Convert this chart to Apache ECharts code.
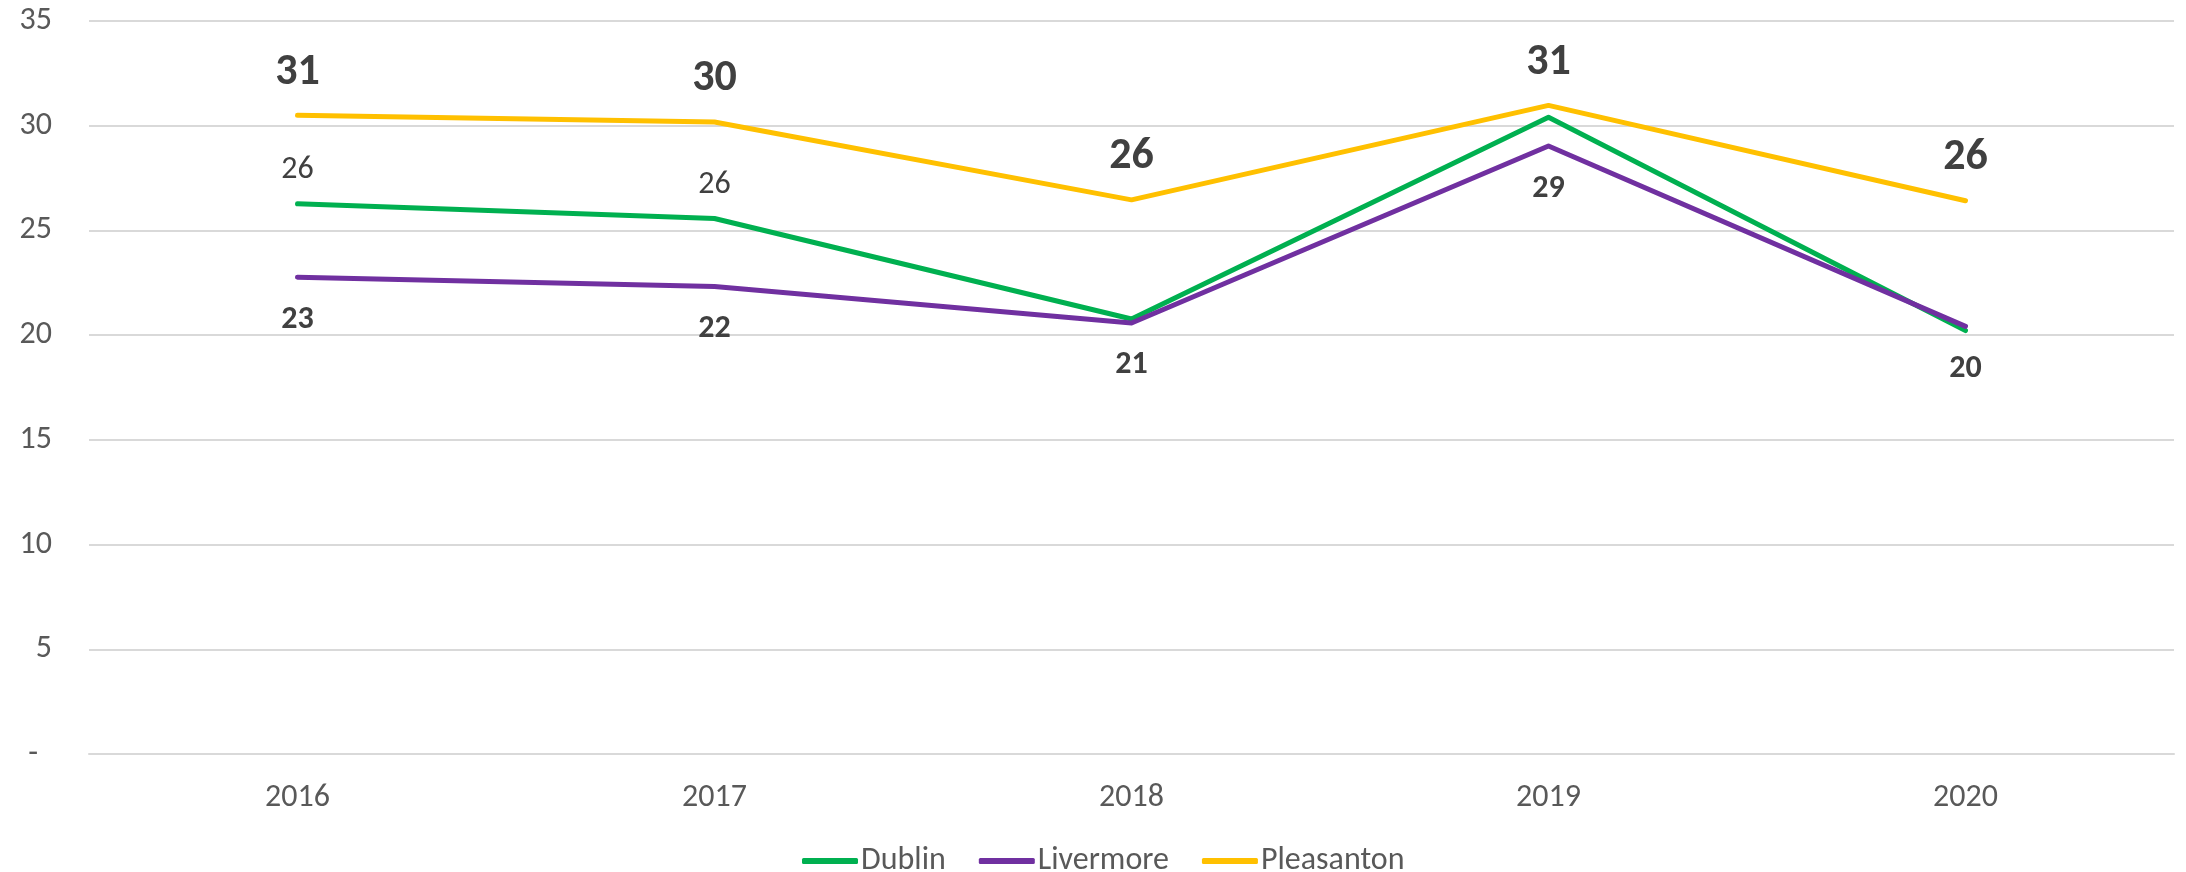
<!DOCTYPE html>
<html>
<head>
<meta charset="utf-8">
<script src="https://cdn.jsdelivr.net/npm/echarts@6/dist/echarts.min.js"></script>
<style>
html,body{margin:0;padding:0;background:#fff;}
#c{width:2186px;height:872px;}
</style>
</head>
<body>
<div id="c"></div>
<script>
const categories = ['2016', '2017', '2018', '2019', '2020'];
const dublin = [26.27, 25.57, 20.77, 30.4, 20.22];
const livermore = [22.77, 22.32, 20.58, 29.03, 20.42];
const pleasanton = [30.5, 30.18, 26.46, 30.97, 26.42];
const dublinLabelShown = [true, true, false, false, false];
const yTicks = { min: 0, max: 35, interval: 5 };

const FONT = "Carlito, 'Liberation Sans', 'Noto Sans', sans-serif";
const chart = echarts.init(document.getElementById('c'));
const round = v => Math.round(v);

chart.setOption({
  animation: false,
  backgroundColor: '#ffffff',
  textStyle: { fontFamily: FONT },
  grid: { left: 89, right: 12, top: 21, bottom: 118, containLabel: false },
  legend: {
    data: ['Dublin', 'Livermore', 'Pleasanton'],
    left: 797,
    top: 840,
    icon: 'roundRect',
    itemWidth: 56,
    itemHeight: 6,
    itemGap: 33,
    textStyle: { fontSize: 32, color: '#595959', fontFamily: FONT, padding: [0, 0, 0, -2] }
  },
  xAxis: {
    type: 'category',
    data: categories,
    boundaryGap: true,
    axisLine: { lineStyle: { color: '#d9d9d9', width: 2 } },
    axisTick: { show: false },
    axisLabel: { fontSize: 32, color: '#595959', margin: 28, fontFamily: FONT }
  },
  yAxis: {
    type: 'value',
    min: yTicks.min,
    max: yTicks.max,
    interval: yTicks.interval,
    axisLine: { show: false },
    axisTick: { show: false },
    splitLine: { lineStyle: { color: '#d9d9d9', width: 2 } },
    axisLabel: {
      fontSize: 32, color: '#595959', margin: 37, fontFamily: FONT,
      formatter: v => v === 0 ? '{d|-}' : String(v),
      rich: { d: { fontSize: 32, color: '#595959', padding: [0, 14, 0, 0], fontFamily: FONT } }
    }
  },
  series: [
    {
      name: 'Dublin', type: 'line', data: dublin,
      symbol: 'circle', symbolSize: 1,
      itemStyle: { color: '#00B050' },
      lineStyle: { color: '#00B050', width: 5, cap: 'round', join: 'round' },
      label: {
        show: true, position: 'top', distance: 17,
        fontSize: 32, color: '#404040', fontFamily: FONT,
        formatter: p => dublinLabelShown[p.dataIndex] ? String(round(p.value)) : ''
      },
      z: 2
    },
    {
      name: 'Livermore', type: 'line', data: livermore,
      symbol: 'circle', symbolSize: 1,
      itemStyle: { color: '#7030A0' },
      lineStyle: { color: '#7030A0', width: 5, cap: 'round', join: 'round' },
      label: {
        show: true, position: 'bottom', distance: 26,
        fontSize: 32, fontWeight: 'bold', color: '#404040', fontFamily: FONT,
        formatter: p => String(round(p.value))
      },
      z: 3
    },
    {
      name: 'Pleasanton', type: 'line', data: pleasanton,
      symbol: 'circle', symbolSize: 1,
      itemStyle: { color: '#FFC000' },
      lineStyle: { color: '#FFC000', width: 5, cap: 'round', join: 'round' },
      label: {
        show: true, position: 'top', distance: 20,
        fontSize: 44, fontWeight: 'bold', color: '#404040', fontFamily: FONT,
        formatter: p => String(round(p.value))
      },
      z: 4
    }
  ]
});
</script>
</body>
</html>
